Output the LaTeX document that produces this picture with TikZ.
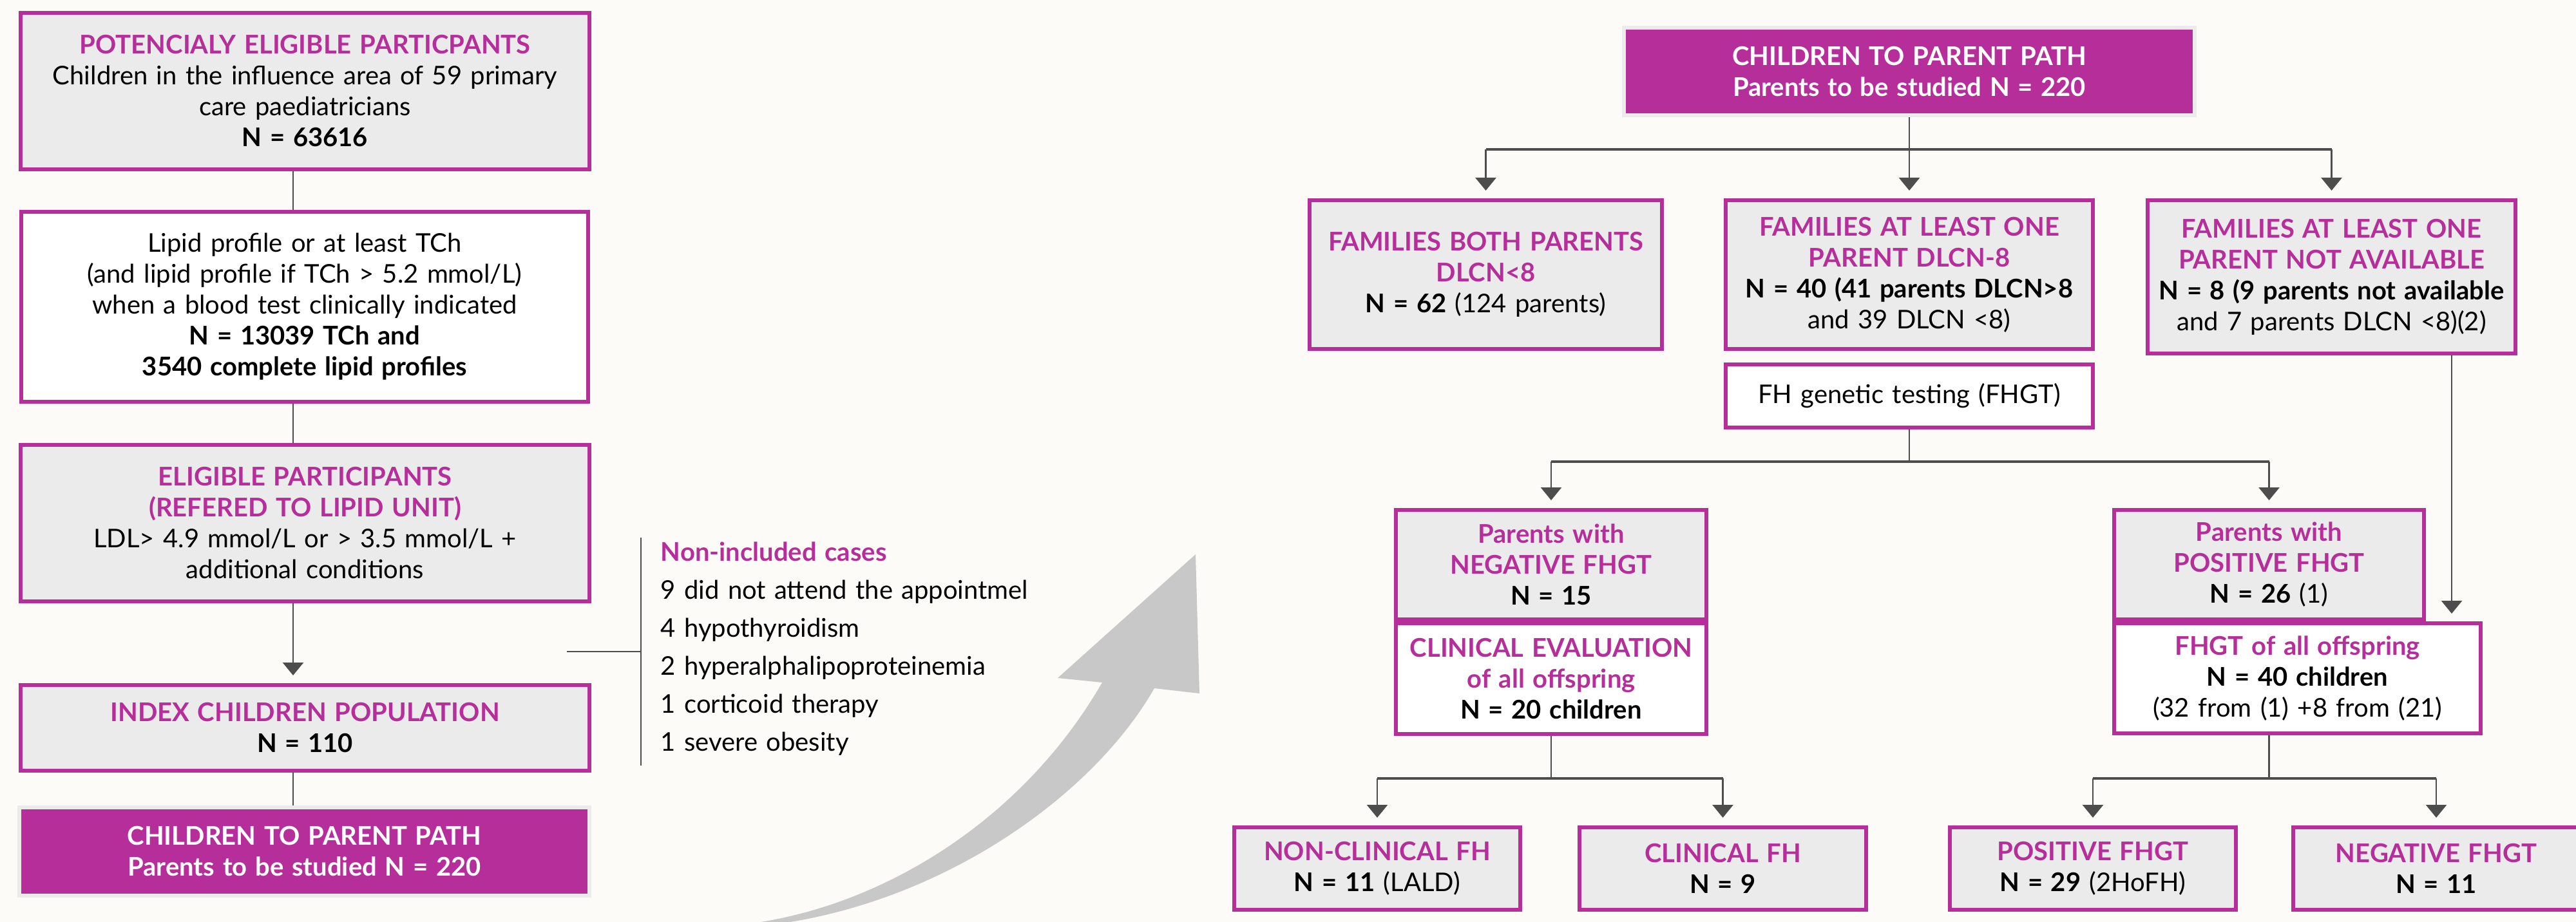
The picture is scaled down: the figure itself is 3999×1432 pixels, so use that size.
\documentclass[tikz,border=0pt]{standalone}
\usepackage{fontspec}
\setmainfont{Lato}[WordSpace=1.3]
\usetikzlibrary{arrows.meta,calc}
\definecolor{mag}{HTML}{B62E9A}
\definecolor{boxgrey}{HTML}{EBEBEB}
\definecolor{lngrey}{HTML}{4D4D4D}
\definecolor{bgc}{HTML}{FDFBF8}
\definecolor{arrgrey}{HTML}{C8C8C8}
\newcommand\magt[1]{{\color{mag}\bfseries #1}}
\begin{document}
\begin{tikzpicture}[x=0.25pt,y=-0.25pt,
  every node/.style={font=\fontsize{10}{12}\selectfont, inner sep=0pt},
  gbox/.style={draw=mag, fill=boxgrey, line width=1.5pt, align=center},
  wbox/.style={draw=mag, fill=white, line width=1.5pt, align=center},
  pbox/.style={draw=boxgrey, fill=mag, line width=1.6pt, align=center, text=white, font=\fontsize{10}{12}\selectfont\bfseries},
  stem/.style={draw=lngrey, line width=0.7pt},
  bar/.style={draw=lngrey, line width=1.1pt},
  arr/.style={draw=lngrey, line width=0.7pt, -{Triangle[width=8pt,length=5pt]}, shorten >=3pt},
  wh/.style 2 args={minimum width={#1*0.25pt}, minimum height={#2*0.25pt}},
]
\fill[bgc] (0,0) rectangle (3999,1432);
\useasboundingbox (0,0) rectangle (3999,1432);

% curved grey arrow
\fill[arrgrey] (1181,1432) .. controls (1380,1400) and (1590,1270) .. (1711,1060)
  -- (1642,1053) -- (1856,861) -- (1862,1077) -- (1792,1069)
  .. controls (1700,1230) and (1480,1390) .. (1227,1432) -- cycle;

% left column
\node[gbox, wh={883}{243}] (L1) at (473.5,141.5) {\magt{POTENCIALY ELIGIBLE PARTICPANTS}\\Children in the influence area of 59 primary\\care paediatricians\\\textbf{N = 63616}};
\node[wbox, wh={880}{295}] (L2) at (473,476.5) {Lipid profile or at least TCh\\(and lipid profile if TCh > 5.2 mmol/L)\\when a blood test clinically indicated\\\textbf{N = 13039 TCh and}\\\textbf{3540 complete lipid profiles}};
\node[gbox, wh={883}{243}] (L3) at (473.5,812.5) {\magt{ELIGIBLE PARTICIPANTS}\\\magt{(REFERED TO LIPID UNIT)}\\LDL> 4.9 mmol/L or > 3.5 mmol/L +\\additional conditions};
\node[gbox, wh={883}{133}] (L4) at (473.5,1130.5) {\magt{INDEX CHILDREN POPULATION}\\\textbf{N = 110}};
\node[pbox, wh={885}{137}] (L5) at (472.5,1322.5) {CHILDREN TO PARENT PATH\\Parents to be studied N = 220};

\coordinate (cL) at (455,0);
\draw[stem] (L1.south -| cL) -- (L2.north -| cL);
\draw[stem] (L2.south -| cL) -- (L3.north -| cL);
\draw[arr] (L3.south -| cL) -- (L4.north -| cL);
\draw[stem] (L4.south -| cL) -- (L5.north -| cL);

% non-included cases
\coordinate (brT) at (995,835);
\coordinate (brB) at (995,1189);
\coordinate (brL) at (880,1012);
\draw[stem] (brT) -- (brB);
\draw[stem] (brL) -- (brL -| brT);
\node[anchor=base west] (nic0) at (1025,871) {\magt{Non-included cases}};
\node[anchor=base west] (nic1) at (1025,930) {9 did not attend the appointmel};
\node[anchor=base west] (nic2) at (1025,989) {4 hypothyroidism};
\node[anchor=base west] (nic3) at (1025,1048) {2 hyperalphalipoproteinemia};
\node[anchor=base west] (nic4) at (1025,1107) {1 corticoid therapy};
\node[anchor=base west] (nic5) at (1025,1166) {1 severe obesity};

% right part
\node[pbox, wh={886}{136}] (T) at (2964,111) {CHILDREN TO PARENT PATH\\Parents to be studied N = 220};
\node[gbox, wh={547}{231}] (A) at (2306.5,426.5) {\magt{FAMILIES BOTH PARENTS}\\\magt{DLCN<8}\\\textbf{N = 62} (124 parents)};
\node[gbox, wh={570}{231}] (B) at (2964,426.5) {\magt{FAMILIES AT LEAST ONE}\\\magt{PARENT DLCN-8}\\\textbf{N = 40 (41 parents DLCN>8}\\and 39 DLCN <8)};
\node[gbox, wh={571}{238}] (C) at (3619.5,430) {\magt{FAMILIES AT LEAST ONE}\\\magt{PARENT NOT AVAILABLE}\\\textbf{N = 8 (9 parents not available}\\and 7 parents DLCN <8)(2)};
\node[wbox, wh={570}{98}] (FH) at (2964,615) {FH genetic testing (FHGT)};

\node[gbox, wh={482}{170}] (N1) at (2408,877) {\magt{Parents with}\\\magt{NEGATIVE FHGT}\\\textbf{N = 15}};
\node[wbox, wh={482}{172}] (N2) at (2408,1054) {\magt{CLINICAL EVALUATION}\\\magt{of all offspring}\\\textbf{N = 20 children}};
\node[gbox, wh={481}{170}] (P1) at (3522.5,877) {\magt{Parents with}\\\magt{POSITIVE FHGT}\\\textbf{N = 26} (1)};
\node[wbox, wh={569}{171}] (P2) at (3566.5,1053.5) {\magt{FHGT of all offspring}\\\textbf{N = 40 children}\\(32 from (1) +8 from (21)};

\node[gbox, wh={444}{128}] (B1) at (2138,1349) {\magt{NON-CLINICAL FH}\\\textbf{N = 11} (LALD)};
\node[gbox, wh={445}{128}] (B2) at (2674.5,1349) {\magt{CLINICAL FH}\\\textbf{N = 9}};
\node[gbox, wh={444}{128}] (B3) at (3249,1349) {\magt{POSITIVE FHGT}\\\textbf{N = 29} (2HoFH)};
\node[gbox, wh={444}{128}] (B4) at (3782,1349) {\magt{NEGATIVE FHGT}\\\textbf{N = 11}};

% connectors right
\coordinate (yb1) at (0,232);
\draw[stem] (T.south) -- (T.south |- yb1);
\draw[bar] (A.north |- yb1) -- (C.north |- yb1);
\draw[arr] (A.north |- yb1) -- (A.north);
\draw[arr] (B.north |- yb1) -- (B.north);
\draw[arr] (C.north |- yb1) -- (C.north);

\coordinate (yb2) at (0,717);
\draw[stem] (FH.south) -- (FH.south |- yb2);
\draw[bar] (N1.north |- yb2) -- (P1.north |- yb2);
\draw[arr] (N1.north |- yb2) -- (N1.north);
\draw[arr] (P1.north |- yb2) -- (P1.north);

\coordinate (xr) at (3806,0);
\draw[arr] (C.south -| xr) -- (P2.north -| xr);

\coordinate (yb3) at (0,1209);
\draw[stem] (N2.south) -- (N2.south |- yb3);
\draw[bar] (B1.north |- yb3) -- (B2.north |- yb3);
\draw[arr] (B1.north |- yb3) -- (B1.north);
\draw[arr] (B2.north |- yb3) -- (B2.north);
\draw[stem] (P2.south -| P1.south) -- (P1.south |- yb3);
\draw[bar] (B3.north |- yb3) -- (B4.north |- yb3);
\draw[arr] (B3.north |- yb3) -- (B3.north);
\draw[arr] (B4.north |- yb3) -- (B4.north);
\end{tikzpicture}
\end{document}
